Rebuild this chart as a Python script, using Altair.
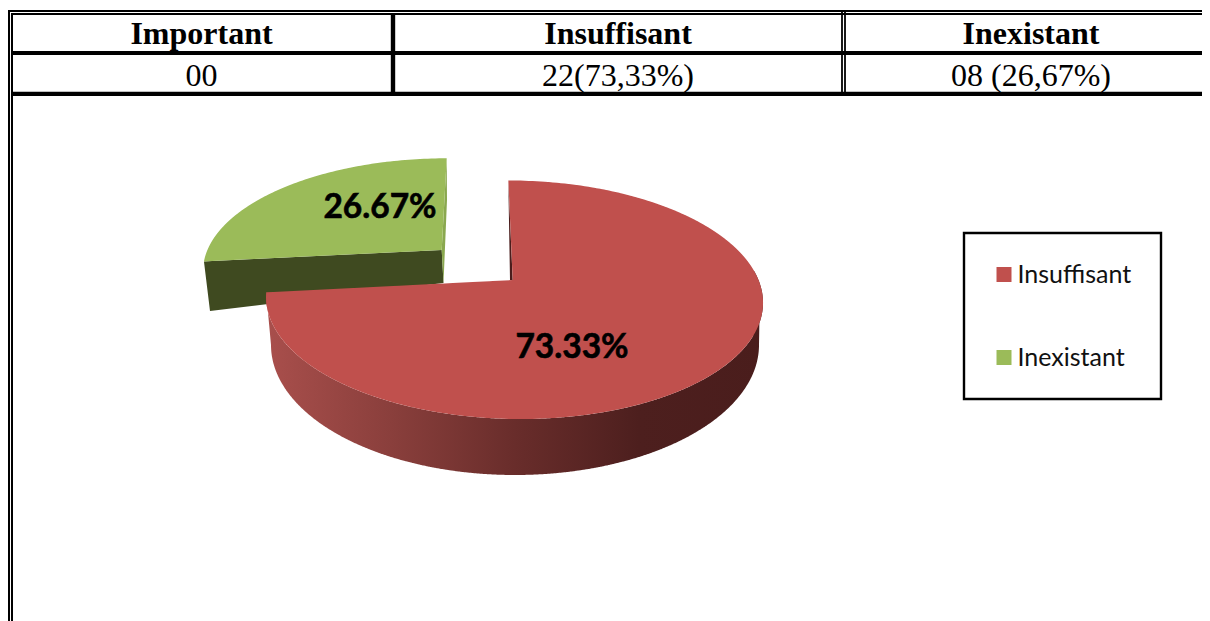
import numpy as np
import pandas as pd
import altair as alt

# --- values
CATEGORIES = ["Insuffisant", "Inexistant"]
SHARES = [73.33, 26.67]
COLORS = ["#C0504D", "#9BBB59"]
HEADERS = ["Important", "Insuffisant", "Inexistant"]
ROW_VALUES = ["00", "22(73,33%)", "08 (26,67%)"]
COL_CENTERS = [201.5, 618, 1031]

WIDTH, HEIGHT = 1194, 613
xs = alt.Scale(domain=[8, 8 + WIDTH], range=[0, WIDTH], nice=False, zero=False)
ys = alt.Scale(domain=[8, 8 + HEIGHT], range=[0, HEIGHT], nice=False, zero=False)
X = lambda f="x": alt.X(f"{f}:Q", scale=xs, axis=None)
Y = lambda f="y": alt.Y(f"{f}:Q", scale=ys, axis=None)


def rim(angles, x0, y0, K, k, s, p=0.1656):
    """Perspective view of a pie rim; angles clockwise from 12 o'clock, degrees."""
    a = np.radians(angles)
    u, v = np.sin(a), -np.cos(a)
    d = 1 - p * v
    return np.c_[x0 + (K * u + s * v) / d, y0 + k * v / d]


def spans(poly, axis, step=1.0):
    """For a closed polygon, the low and high edge across each step of one axis."""
    poly = np.asarray(poly, float)
    other = 1 - axis
    a, b = poly, np.roll(poly, -1, axis=0)
    grid = np.unique(np.r_[np.arange(np.floor(poly[:, axis].min()), poly[:, axis].max(), step), poly[:, axis]])
    grid = grid[(grid >= poly[:, axis].min()) & (grid <= poly[:, axis].max())]
    rows = []
    for g in grid:
        hits = []
        for p, q in zip(a, b):
            lo, hi = min(p[axis], q[axis]), max(p[axis], q[axis])
            if lo <= g <= hi:
                if hi == lo:
                    hits += [p[other], q[other]]
                else:
                    hits.append(p[other] + (g - p[axis]) / (q[axis] - p[axis]) * (q[other] - p[other]))
        if hits:
            rows.append((g, min(hits), max(hits)))
    return pd.DataFrame(rows, columns=["g", "lo", "hi"])


def hband(poly, **extra):
    return spans(poly, 1).rename(columns={"g": "y", "lo": "x", "hi": "x2"}).assign(**extra)


def vband(poly, **extra):
    return spans(poly, 0).rename(columns={"g": "x", "lo": "y", "hi": "y2"}).assign(**extra)


red_end = 360 * SHARES[0] / sum(SHARES)
red_apex = (512.7, 280)
green_apex = (441.7, 250)

red_angles = np.linspace(0, red_end, 240)
red_rim = rim(red_angles, 513.5, 280, 245, 116, 6)
green_rim = rim(np.linspace(red_end, 360, 90), *green_apex, 234.3, 106.9, -5.83)

red_top = np.vstack([red_rim, [red_apex]])
green_top = np.vstack([green_rim, [green_apex]])

t = np.linspace(0, np.pi, 200)
red_floor = np.c_[515 + 244 * np.cos(t), 345 + 130 * np.sin(t)]
red_wall = np.vstack([red_rim[red_angles > 85], red_floor[::-1]])

green_wall = [green_rim[0], green_apex, (443.5, 283), (210, 311)]
green_edge = [green_rim[-1], (447, 200), (443.5, 283), green_apex]
red_edge = [(508.3, 180.5), (510, 280), red_apex]

wall_gradient = alt.Gradient(
    gradient="linear", x1=0, x2=1, y1=0, y2=0,
    stops=[
        alt.GradientStop(color="#A94F4C", offset=0),
        alt.GradientStop(color="#8A3F3C", offset=0.25),
        alt.GradientStop(color="#692D2B", offset=0.5),
        alt.GradientStop(color="#4D1F1E", offset=0.75),
        alt.GradientStop(color="#4A1D1C", offset=1),
    ],
)


def flat(poly, color):
    return alt.Chart(hband(poly)).mark_area(orient="horizontal", color=color).encode(
        y=Y(), x=X(), x2="x2:Q"
    )


tops = pd.concat([
    hband(red_top, series=CATEGORIES[0]),
    hband(green_top, series=CATEGORIES[1]),
])
top_layer = alt.Chart(tops).mark_area(orient="horizontal").encode(
    y=Y(), x=X(), x2="x2:Q",
    color=alt.Color(
        "series:N",
        scale=alt.Scale(domain=CATEGORIES, range=COLORS),
        sort=CATEGORIES,
        legend=alt.Legend(
            title=None, orient="none", legendX=983.5, legendY=254, padding=0,
            symbolType="square", symbolSize=225, symbolStrokeWidth=0, symbolOpacity=1,
            labelFont="Lato", labelFontSize=25, labelColor="#111111", labelOffset=1,
            rowPadding=57, labelLimit=200,
        ),
    ),
)

wall_layer = alt.Chart(vband(red_wall)).mark_area(color=wall_gradient).encode(
    x=X(), y=Y(), y2="y2:Q"
)

labels = pd.DataFrame({"x": [572, 380], "y": [348, 208],
                       "t": [f"{v:.2f}%" for v in SHARES]})
label_layer = alt.Chart(labels).mark_text(
    font="Lato", fontWeight="bold", fontSize=33.5, color="#000000", baseline="middle",
    stroke="#000000", strokeWidth=0.6,
).encode(x=X(), y=Y(), text="t:N")

frame = pd.DataFrame({"x": [964], "x2": [1161], "y": [233], "y2": [399]})
frame_layer = alt.Chart(frame).mark_rect(fill="white", stroke="black", strokeWidth=2.4).encode(
    x=X(), x2="x2:Q", y=Y(), y2="y2:Q"
)

rules = pd.DataFrame(
    [
        (8, 1202, 11, 11, 1.8), (11, 1202, 14, 14, 1.8),
        (9, 9, 10, 621, 2), (12, 12, 14, 621, 2),
        (12, 1202, 53, 53, 3.8), (12, 1202, 93.8, 93.8, 4.2),
        (393, 393, 14, 93, 4.4), (842, 842, 11, 93, 1.8), (845, 845, 11, 93, 1.8),
    ],
    columns=["x", "x2", "y", "y2", "w"],
)
rule_layer = alt.Chart(rules).mark_rule(color="black").encode(
    x=X(), x2="x2:Q", y=Y(), y2="y2:Q",
    strokeWidth=alt.StrokeWidth("w:Q", scale=None),
)

head = pd.DataFrame({"x": COL_CENTERS, "y": [44] * 3, "t": HEADERS})
head_layer = alt.Chart(head).mark_text(
    font="Liberation Serif", fontWeight="bold", fontSize=32, color="black", baseline="alphabetic"
).encode(x=X(), y=Y(), text="t:N")
row = pd.DataFrame({"x": COL_CENTERS, "y": [85.5] * 3, "t": ROW_VALUES})
row_layer = alt.Chart(row).mark_text(
    font="Liberation Serif", fontSize=32, color="black", baseline="alphabetic"
).encode(x=X(), y=Y(), text="t:N")

chart = alt.layer(
    frame_layer,
    flat(green_wall, "#3F4A20"),
    flat(green_edge, "#8AA84F"),
    flat(red_edge, "#4A1D1C"),
    wall_layer,
    top_layer,
    label_layer,
    rule_layer,
    head_layer,
    row_layer,
).properties(
    width=WIDTH, height=HEIGHT, padding=0,
    autosize=alt.AutoSizeParams(type="none"),
    background="white",
).configure_view(stroke=None)

chart.save("out.html", embed_options={"renderer": "svg", "actions": False})
